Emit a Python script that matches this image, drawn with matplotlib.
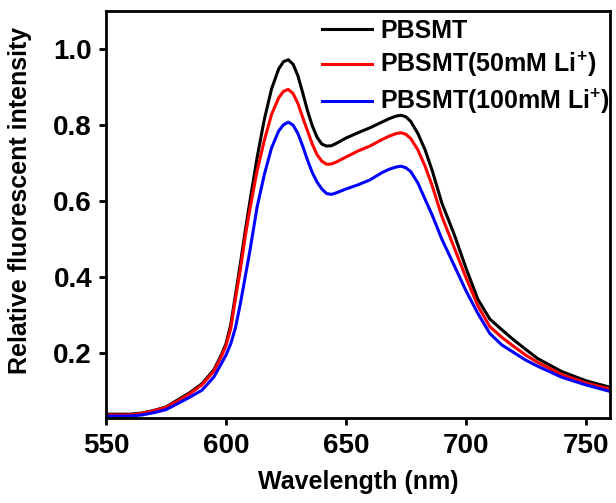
import numpy as np
import matplotlib
matplotlib.use("Agg")
import matplotlib.pyplot as plt

plt.rcParams['font.family'] = ['Liberation Sans', 'DejaVu Sans']
plt.rcParams['font.weight'] = 'bold'
plt.rcParams['mathtext.fontset'] = 'custom'
plt.rcParams['mathtext.rm'] = 'Liberation Sans:bold'
plt.rcParams['mathtext.bf'] = 'Liberation Sans:bold'
plt.rcParams['mathtext.default'] = 'rm'

# wavelength grid (nm), denser around the peaks
wavelength = [550, 560, 565, 570, 575, 580, 585, 590, 595, 598, 600, 602, 604, 606, 608,
              610, 613, 616, 619, 622, 624, 626, 628, 630, 632, 634, 636, 638, 640, 642,
              644, 646, 650, 655, 660, 665, 668, 671, 673, 675, 677, 680, 683, 686, 690,
              695, 700, 705, 710, 715, 720, 725, 730, 740, 750, 760]

pbsmt = [0.040, 0.040, 0.043, 0.050, 0.059, 0.078, 0.097, 0.120, 0.157, 0.195, 0.225,
         0.275, 0.355, 0.435, 0.520, 0.600, 0.715, 0.815, 0.895, 0.948, 0.967, 0.972,
         0.960, 0.930, 0.885, 0.838, 0.798, 0.768, 0.750, 0.745, 0.746, 0.752, 0.766,
         0.780, 0.793, 0.808, 0.817, 0.824, 0.826, 0.822, 0.810, 0.778, 0.735, 0.680,
         0.595, 0.515, 0.425, 0.342, 0.290, 0.262, 0.235, 0.210, 0.186, 0.152, 0.128,
         0.111]

pbsmt_50 = [0.038, 0.038, 0.042, 0.049, 0.058, 0.075, 0.094, 0.117, 0.153, 0.190, 0.220,
            0.265, 0.345, 0.420, 0.505, 0.580, 0.680, 0.760, 0.828, 0.872, 0.889, 0.894,
            0.883, 0.857, 0.820, 0.785, 0.750, 0.722, 0.705, 0.697, 0.698, 0.703, 0.716,
            0.732, 0.745, 0.762, 0.771, 0.778, 0.780, 0.776, 0.765, 0.735, 0.692, 0.640,
            0.560, 0.480, 0.400, 0.325, 0.270, 0.242, 0.218, 0.195, 0.176, 0.144, 0.122,
            0.106]

pbsmt_100 = [0.035, 0.035, 0.038, 0.044, 0.052, 0.068, 0.085, 0.103, 0.138, 0.172, 0.195,
             0.225, 0.268, 0.330, 0.400, 0.470, 0.585, 0.670, 0.740, 0.785, 0.801, 0.808,
             0.800, 0.778, 0.745, 0.708, 0.675, 0.650, 0.632, 0.620, 0.618, 0.622, 0.632,
             0.643, 0.656, 0.675, 0.684, 0.690, 0.692, 0.688, 0.678, 0.648, 0.605, 0.563,
             0.500, 0.433, 0.365, 0.305, 0.252, 0.222, 0.202, 0.182, 0.166, 0.137, 0.117,
             0.100]

labels = ['PBSMT', r'PBSMT(50mM Li$^{+}$)', r'PBSMT(100mM Li$^{+}$)']
colors = ['black', 'red', 'blue']

fig = plt.figure(figsize=(6.16, 5.03), dpi=100)
ax = fig.add_axes([0.172, 0.169, 0.818, 0.809])

for y, lab, c in zip([pbsmt, pbsmt_50, pbsmt_100], labels, colors):
    ax.plot(wavelength, y, color=c, linewidth=2.2, label=lab)

ax.set_xlim(550, 760)
ax.set_ylim(0.03, 1.1)
ax.set_xticks([550, 600, 650, 700, 750])
ax.set_yticks([0.2, 0.4, 0.6, 0.8, 1.0])
ax.set_yticklabels(['0.2', '0.4', '0.6', '0.8', '1.0'])

for s in ax.spines.values():
    s.set_linewidth(2)
ax.tick_params(direction='out', length=5, width=2, labelsize=20)
ax.tick_params(axis='x', pad=6)
ax.tick_params(axis='y', pad=5)
for t in ax.get_xticklabels() + ax.get_yticklabels():
    t.set_fontweight('bold')

ax.set_xlabel('Wavelength (nm)', fontsize=18, fontweight='bold', labelpad=8)
ax.set_ylabel('Relative fluorescent intensity', fontsize=18, fontweight='bold')
ax.yaxis.set_label_coords(-0.146, 0.535)

leg = ax.legend(loc='upper right', frameon=False, fontsize=18, handlelength=2.0,
                handletextpad=0.35, labelspacing=0.3, borderaxespad=0.1,
                bbox_to_anchor=(1.026, 1.012))
for t in leg.get_texts():
    t.set_fontweight('bold')

fig.savefig('out.png', dpi=100)
